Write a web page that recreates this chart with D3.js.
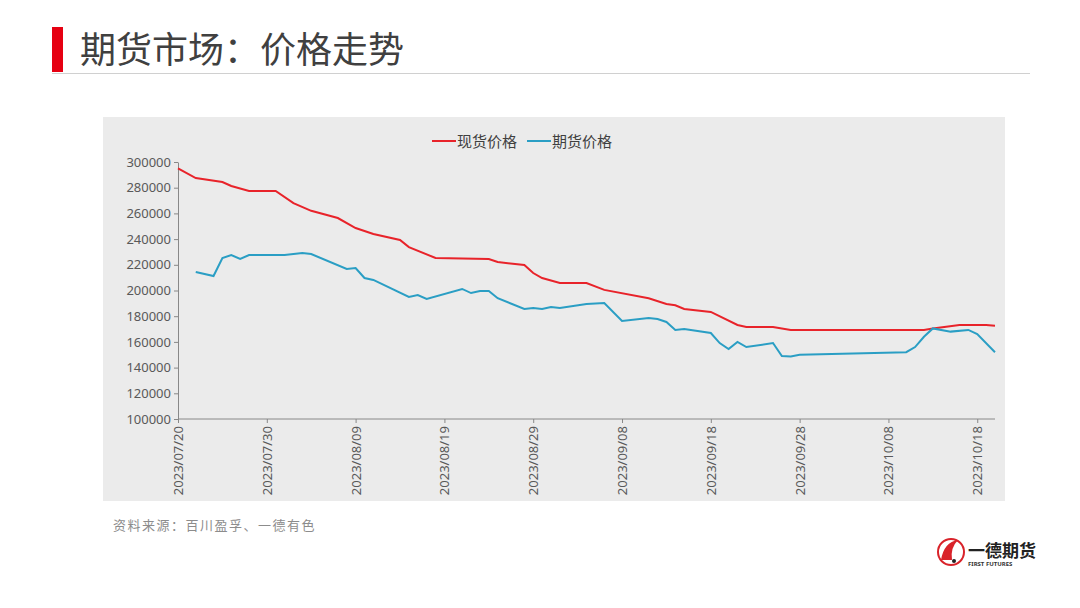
<!DOCTYPE html><html><head><meta charset="utf-8"><script src="https://cdn.jsdelivr.net/npm/d3@7"></script>
<style>body{margin:0;background:#fff}svg{display:block;font-family:"Noto Sans CJK SC","Noto Sans",sans-serif}</style></head><body><svg id="c" width="1080" height="608"></svg><script>
const spotDates=["2023-07-20","2023-07-22","2023-07-25","2023-07-26","2023-07-28","2023-07-31","2023-08-02","2023-08-04","2023-08-07","2023-08-09","2023-08-11","2023-08-14","2023-08-15","2023-08-18","2023-08-24","2023-08-25","2023-08-28","2023-08-29","2023-08-30","2023-09-01","2023-09-04","2023-09-06","2023-09-11","2023-09-13","2023-09-14","2023-09-15","2023-09-18","2023-09-21","2023-09-22","2023-09-25","2023-09-27","2023-10-12","2023-10-13","2023-10-16","2023-10-19","2023-10-20"];
const spotValues=[295000,287500,284400,281300,277400,277400,268000,262000,256400,248600,244000,239300,233800,225300,224500,222200,219800,213600,209700,205800,205800,200500,194000,189500,188500,185600,183300,173200,171600,171500,169300,169300,170500,173200,173200,172500];
const futDates=["2023-07-22","2023-07-24","2023-07-25","2023-07-26","2023-07-27","2023-07-28","2023-08-01","2023-08-03","2023-08-04","2023-08-08","2023-08-09","2023-08-10","2023-08-11","2023-08-15","2023-08-16","2023-08-17","2023-08-21","2023-08-22","2023-08-23","2023-08-24","2023-08-25","2023-08-28","2023-08-29","2023-08-30","2023-08-31","2023-09-01","2023-09-04","2023-09-06","2023-09-08","2023-09-11","2023-09-12","2023-09-13","2023-09-14","2023-09-15","2023-09-18","2023-09-19","2023-09-20","2023-09-21","2023-09-22","2023-09-25","2023-09-26","2023-09-27","2023-09-28","2023-10-10","2023-10-11","2023-10-12","2023-10-13","2023-10-15","2023-10-17","2023-10-18","2023-10-20"];
const futValues=[214400,211300,225300,227600,224500,227600,227600,229100,228400,216700,217500,209700,208200,195000,196500,193400,201200,198000,199600,199600,194000,185600,186300,185600,187100,186300,189500,190300,176300,178600,177800,175500,169300,170000,166900,159100,154500,160000,156000,159100,149000,148600,150000,152000,156000,164000,170500,168000,169300,166100,152000];
const tickDates=["2023-07-20","2023-07-30","2023-08-09","2023-08-19","2023-08-29","2023-09-08","2023-09-18","2023-09-28","2023-10-08","2023-10-18"];
const yTicks=[100000,120000,140000,160000,180000,200000,220000,240000,260000,280000,300000];
const seriesNames=["现货价格","期货价格"];
const p=d3.timeParse("%Y-%m-%d");
const svg=d3.select("#c");
svg.append("rect").attr("x",52).attr("y",27).attr("width",11).attr("height",45).attr("fill","#e60012");
svg.append("text").attr("x",80).attr("y",63).attr("font-size",36).attr("fill","#404040").text("期货市场：价格走势");
svg.append("line").attr("x1",52).attr("x2",1030).attr("y1",73.5).attr("y2",73.5).attr("stroke","#d0d0d0");
svg.append("rect").attr("x",103).attr("y",117).attr("width",902).attr("height",384).attr("fill","#ebebeb");
const x=d3.scaleTime().domain([p("2023-07-20"),p("2023-10-20")]).range([178,995]);
const y=d3.scaleLinear().domain([100000,300000]).range([419,162]);
const ya=svg.append("g").attr("transform","translate(178,0)").call(d3.axisLeft(y).tickValues(yTicks).tickSize(4).tickSizeOuter(0).tickFormat(d3.format("d")));
ya.selectAll("text").attr("font-size",13).attr("fill","#595959").attr("font-family","Noto Sans");
ya.selectAll("line,path").attr("stroke","#888");
const xa=svg.append("g").attr("transform","translate(0,419)").call(d3.axisBottom(x).tickValues(tickDates.map(p)).tickSize(4).tickSizeOuter(0).tickFormat(d3.timeFormat("%Y/%m/%d")));
xa.select("path").attr("d","M178,0H995");
xa.selectAll("line,path").attr("stroke","#888");
xa.selectAll("text").attr("font-size",13).attr("fill","#595959").attr("font-family","Noto Sans").attr("transform","rotate(-90)").attr("text-anchor","end").attr("x",-7).attr("y",0).attr("dy","0.35em");
const line=d3.line().x(d=>x(d[0])).y(d=>y(d[1]));
const colors=["#e8232a","#2a9ec4"];
svg.append("path").datum(spotDates.map((d,i)=>[p(d),spotValues[i]])).attr("d",line).attr("fill","none").attr("stroke",colors[0]).attr("stroke-width",2);
svg.append("path").datum(futDates.map((d,i)=>[p(d),futValues[i]])).attr("d",line).attr("fill","none").attr("stroke",colors[1]).attr("stroke-width",2);
const lg=[[432,seriesNames[0]],[527,seriesNames[1]]];
lg.forEach((l,i)=>{svg.append("line").attr("x1",l[0]).attr("x2",l[0]+24).attr("y1",141).attr("y2",141).attr("stroke",colors[i]).attr("stroke-width",2);
svg.append("text").attr("x",l[0]+25).attr("y",146.5).attr("font-size",15).attr("fill","#404040").text(l[1]);});
svg.append("text").attr("x",113).attr("y",530).attr("font-size",13).attr("fill","#8c8c8c").attr("letter-spacing",1.5).attr("font-family","Noto Sans CJK SC").text("资料来源：百川盈孚、一德有色");
const lgo=svg.append("g");
lgo.append("circle").attr("cx",951).attr("cy",552).attr("r",13).attr("fill","none").attr("stroke","#d9232a").attr("stroke-width",2);
lgo.append("path").attr("d","M941,560 Q944,542 958,540 Q950,548 952,560Z").attr("fill","#d9232a");
lgo.append("circle").attr("cx",954).attr("cy",561).attr("r",2).attr("fill","#222");
lgo.append("text").attr("x",968).attr("y",557).attr("font-size",17).attr("font-weight","bold").attr("fill","#222").text("一德期货");
lgo.append("text").attr("x",968).attr("y",566).attr("font-size",6).attr("font-weight","bold").attr("fill","#333").attr("font-family","Noto Sans").text("FIRST FUTURES");
</script></body></html>
